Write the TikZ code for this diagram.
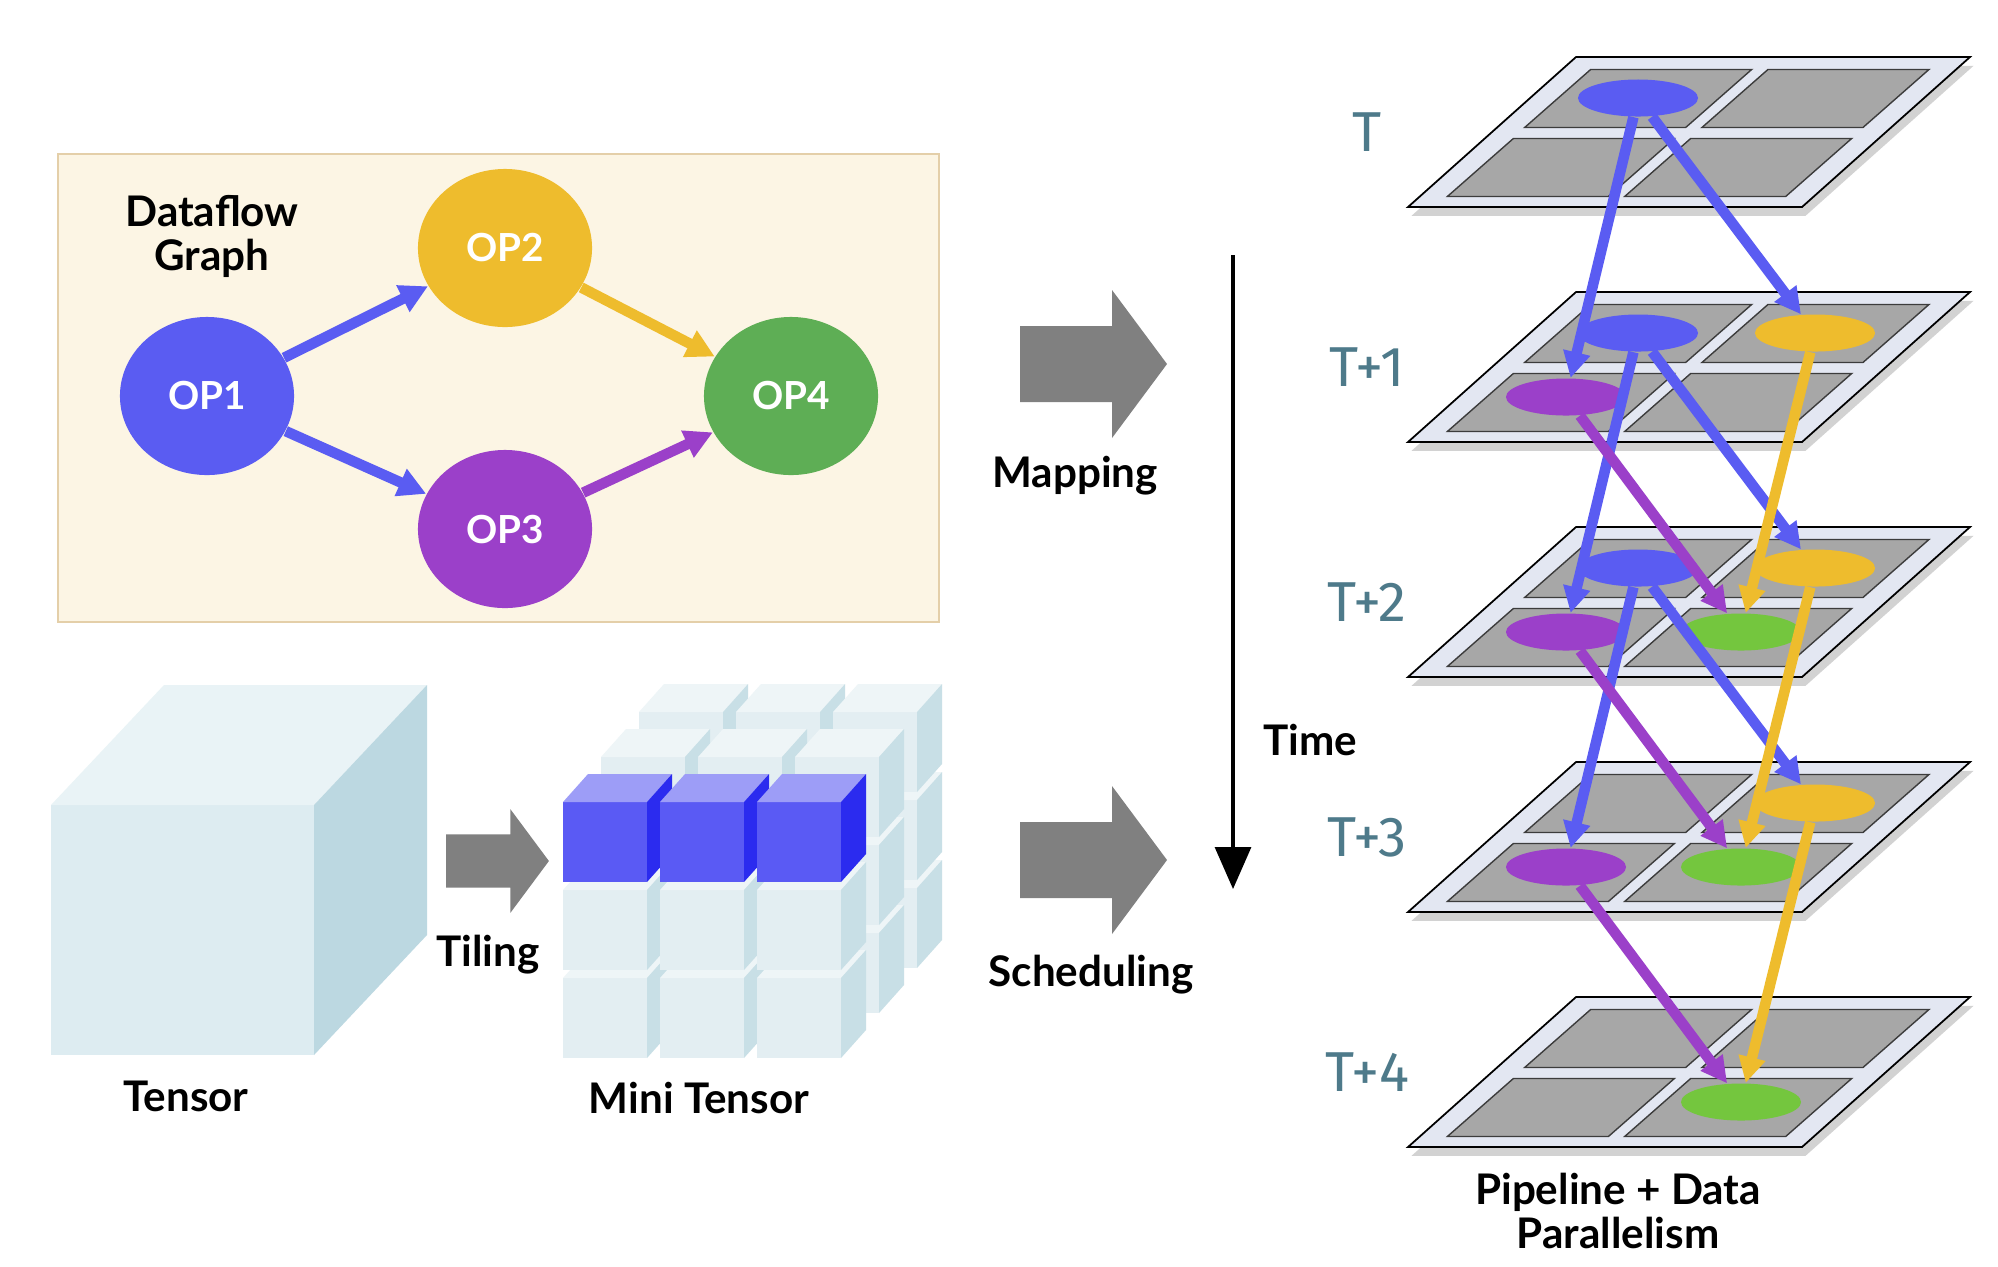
\documentclass[tikz,border=0pt]{standalone}
\usepackage{fontspec}
\setmainfont{Lato}
\newfontfamily\stepfont{Fira Sans}
\usetikzlibrary{arrows.meta,shapes.geometric,shadows}

\definecolor{opblue}{HTML}{5A5CF2}
\definecolor{opyellow}{HTML}{EEBC2D}
\definecolor{oppurple}{HTML}{9B40C9}
\definecolor{opgreen}{HTML}{5EAE55}
\definecolor{limegreen}{HTML}{74C63E}
\definecolor{boxfill}{HTML}{FCF5E4}
\definecolor{boxline}{HTML}{E4CFA9}
\definecolor{blockgray}{HTML}{808080}
\definecolor{framefill}{HTML}{E3E7F2}
\definecolor{cellgray}{HTML}{A7A7A7}
\definecolor{cellline}{HTML}{3C3C3C}
\definecolor{tlabel}{HTML}{4E7A8A}
\definecolor{cubefront}{HTML}{DDECF1}
\definecolor{cubetop}{HTML}{E9F3F6}
\definecolor{cubeside}{HTML}{BCD8E1}
\definecolor{minifront}{HTML}{E3EEF2}
\definecolor{minitop}{HTML}{EEF5F7}
\definecolor{miniside}{HTML}{C8DFE6}
\definecolor{hotfront}{HTML}{5A5AF4}
\definecolor{hottop}{HTML}{9D9DF7}
\definecolor{hotside}{HTML}{2B2BEF}

\tikzset{
  opnode/.style={ellipse,minimum width=1.74cm,minimum height=1.58cm,inner sep=0pt,
    text=white,font=\bfseries\fontsize{11}{13}\selectfont},
  flow/.style={line width=3pt,-{Triangle[length=0.28cm,width=0.28cm]}},
  task/.style={ellipse,minimum width=1.2cm,minimum height=0.37cm,inner sep=0pt},
  hop/.style={line width=3pt,-{Triangle[length=0.26cm,width=0.26cm]}},
  caption/.style={font=\bfseries\fontsize{12}{12.5}\selectfont,align=center},
  steplabel/.style={text=tlabel,font=\stepfont\fontsize{16}{18}\selectfont},
  frame/.style={fill=framefill,draw=black,line width=0.5pt,
    drop shadow={shadow xshift=1pt,shadow yshift=-2.5pt,opacity=0.35}},
  cell/.style={fill=cellgray,draw=cellline,line width=0.4pt},
  bigarrow/.pic={\fill[blockgray] (0,-38) -- (92,-38) -- (92,-74) -- (147,0)
    -- (92,74) -- (92,38) -- (0,38) -- cycle;}
}

\newcommand{\minicube}[5]{%
  \fill[#3] (#1,#2) rectangle ++(84,80);
  \fill[#4] (#1,#2) -- ++(25,-28) -- ++(84,0) -- ++(-25,28) -- cycle;
  \fill[#5] (#1+84,#2) -- ++(25,-28) -- ++(0,80) -- ++(-25,28) -- cycle;
}

\begin{document}
\begin{tikzpicture}[x=0.01cm,y=-0.01cm]
\useasboundingbox (0,0) rectangle (1998,1266);
\fill[white] (0,0) rectangle (1998,1266);

\filldraw[fill=boxfill,draw=boxline,line width=0.5pt] (58,154) rectangle (939,622);
\node[caption] (title) at (212,236) {Dataflow\\Graph};
\node[opnode,fill=opblue] (op1) at (207,396) {OP1};
\node[opnode,fill=opyellow] (op2) at (505,248) {OP2};
\node[opnode,fill=oppurple] (op3) at (505,529) {OP3};
\node[opnode,fill=opgreen] (op4) at (791,396) {OP4};
\draw[flow,opblue] (op1) -- (op2);
\draw[flow,opblue] (op1) -- (op3);
\draw[flow,opyellow] (op2) -- (op4);
\draw[flow,oppurple] (op3) -- (op4);

\fill[cubefront] (51,805) rectangle (314,1055);
\fill[cubetop] (51,805) -- (164,685) -- (427,685) -- (314,805) -- cycle;
\fill[cubeside] (314,805) -- (427,685) -- (427,935) -- (314,1055) -- cycle;
\node[caption] (tensor) at (186,1096) {Tensor};

\pic[scale=0.7] at (446,861) {bigarrow};
\node[caption] (tiling) at (488,955) {Tiling};

\foreach \d in {2,1,0}{
  \foreach \r in {2,1,0}{
    \foreach \c in {0,1,2}{
      \pgfmathsetmacro\cx{563+97*\c+38*\d}
      \pgfmathsetmacro\cy{802+88*\r-45*\d}
      \ifnum\numexpr\d+\r\relax=0
        \minicube{\cx}{\cy}{hotfront}{hottop}{hotside}
      \else
        \minicube{\cx}{\cy}{minifront}{minitop}{miniside}
      \fi
    }}}
\node[caption] (mini) at (699,1098) {Mini Tensor};

\pic at (1020,364) {bigarrow};
\node[caption] (mapping) at (1075,476) {Mapping};
\pic at (1020,860) {bigarrow};
\node[caption] (scheduling) at (1091,975) {Scheduling};

\coordinate (tstart) at (1233,255);
\coordinate (tend) at (1233,889);
\draw[line width=0.9pt,-{Triangle[length=0.42cm,width=0.36cm]}] (tstart) -- (tend);
\node[caption,anchor=west] (time) at (1251,740) {Time};

\foreach \k/\txt in {0/T,1/T+1,2/T+2,3/T+3,4/T+4}{
  \coordinate (base\k) at (1408,{207+235*\k});
  \filldraw[frame] (base\k) -- ++(394,0) -- ++(168,-150) -- ++(-394,0) -- cycle;
  \foreach \u in {0.07,0.52}
    \foreach \v in {0.07,0.53}
      \filldraw[cell] ([shift={({\u*394+\v*168},{-\v*150})}]base\k)
        -- ++(161,0) -- ++(66,-58) -- ++(-161,0) -- cycle;
  \node[steplabel] (lab\k) at (1367,{132+235*\k}) {\txt};
}

\node[task,fill=opblue] (b0) at ([shift={(230,-109)}]base0) {};
\foreach \k in {1,2}
  \node[task,fill=opblue] (b\k) at ([shift={(230,-109)}]base\k) {};
\foreach \k in {1,2,3}{
  \node[task,fill=opyellow] (y\k) at ([shift={(407,-109)}]base\k) {};
  \node[task,fill=oppurple] (p\k) at ([shift={(158,-45)}]base\k) {};
}
\foreach \k in {2,3,4}
  \node[task,fill=limegreen] (g\k) at ([shift={(333,-45)}]base\k) {};

\draw[hop,opblue] (b0) -- (p1);
\draw[hop,opblue] (b0) -- (y1);
\foreach \k/\n in {1/2,2/3}{
  \draw[hop,opblue] (b\k) -- (p\n);
  \draw[hop,opblue] (b\k) -- (y\n);
  \draw[hop,oppurple] (p\k) -- (g\n);
  \draw[hop,opyellow] (y\k) -- (g\n);
}
\draw[hop,oppurple] (p3) -- (g4);
\draw[hop,opyellow] (y3) -- (g4);

\node[caption] (pipeline) at (1618,1211) {Pipeline + Data\\Parallelism};
\end{tikzpicture}
\end{document}
